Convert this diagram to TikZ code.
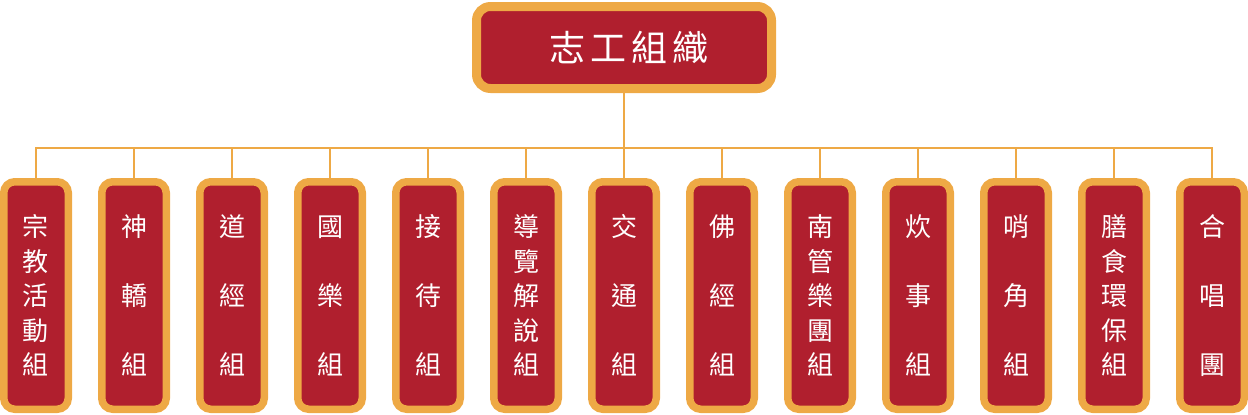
\documentclass[tikz,border=0pt]{standalone}
\usepackage{fontspec}
\newfontfamily\cjk{Noto Sans CJK TC}
\definecolor{boxred}{HTML}{B01F2E}
\definecolor{boxorange}{HTML}{EEA945}
\tikzset{
  topbox/.style={draw=boxorange, fill=boxred, line width=9pt, rounded corners=14pt,
    minimum width=295pt, minimum height=82pt, inner sep=0pt, text=white,
    font=\cjk\fontsize{36}{40}\selectfont},
  groupbox/.style={draw=boxorange, fill=boxred, line width=7.5pt, rounded corners=11pt,
    minimum width=64.5pt, minimum height=227.5pt, inner sep=0pt, text=white, align=center,
    font=\cjk\fontsize{26}{34.5}\selectfont},
  link/.style={draw=boxorange, line width=2.8pt}
}
\newcommand\fivecol[5]{#1\\#2\\#3\\#4\\#5}
\begin{document}
\begin{tikzpicture}[x=1pt,y=-1pt]
\useasboundingbox (0,0) rectangle (1248,415);
\node[topbox] (top) at (624,47.5) {\hspace*{10pt}志\kern5pt 工\kern5pt 組\kern5pt 織};
\coordinate (bus) at (624,148);
\foreach \i/\a/\b/\c/\d/\e in {
 0/宗/教/活/動/組,
 1/神//轎//組,
 2/道//經//組,
 3/國//樂//組,
 4/接//待//組,
 5/導/覽/解/說/組,
 6/交//通//組,
 7/佛//經//組,
 8/南/管/樂/團/組,
 9/炊//事//組,
 10/哨//角//組,
 11/膳/食/環/保/組,
 12/合//唱//團}{
  \node[groupbox] (g\i) at ({36+98*\i},295.5) {\fivecol{\a}{\b}{\c}{\d}{\e}};
  \draw[link] (top.south) -- (top.south |- bus) -| (g\i.north);
}
\end{tikzpicture}
\end{document}
